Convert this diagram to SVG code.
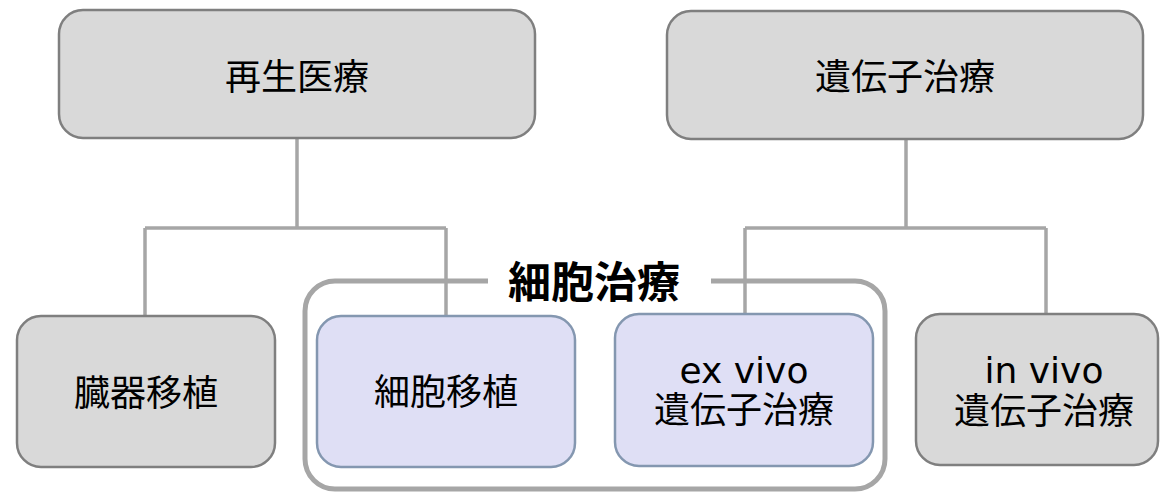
<svg xmlns="http://www.w3.org/2000/svg" width="1160" height="492" viewBox="0 0 1160 492">
<style>
.gray{fill:#d9d9d9;stroke:#7f7f7f;stroke-width:2.5}
.blue{fill:#dfdff5;stroke:#8497b0;stroke-width:2.5}
.conn{fill:none;stroke:#a6a6a6;stroke-width:3.5}
.frame{fill:none;stroke:#a6a6a6;stroke-width:5}
.t{font-family:"DejaVu Sans","Noto Sans CJK JP",sans-serif;font-size:36px;fill:#000;text-anchor:middle;dominant-baseline:central}
.tb{font-family:"Noto Sans CJK JP",sans-serif;font-size:43px;font-weight:bold;fill:#000;text-anchor:middle;dominant-baseline:central}
</style>
<rect width="1160" height="492" fill="#fff"/>
<g id="connectors">
<path class="conn" d="M297 139V228M145 228H446M145 228V316M446 228V315"/>
<path class="conn" d="M906 139V228M745 228H1046M745 228V314M1046 228V314"/>
</g>
<g id="cell-therapy-group">
<path class="frame" d="M488 281H335A30 30 0 0 0 305 311V459A30 30 0 0 0 335 489H855A30 30 0 0 0 885 459V311A30 30 0 0 0 855 281H711"/>
<text class="tb" x="594" y="279">細胞治療</text>
</g>
<g id="regen">
<rect class="gray" x="59" y="10" width="476" height="128" rx="24"/>
<text class="t" x="297" y="77">再生医療</text>
</g>
<g id="gene">
<rect class="gray" x="667" y="11" width="476" height="128" rx="24"/>
<text class="t" x="905" y="77">遺伝子治療</text>
</g>
<g id="organ">
<rect class="gray" x="17" y="316" width="258" height="151" rx="24"/>
<text class="t" x="146" y="393">臓器移植</text>
</g>
<g id="cell-transplant">
<rect class="blue" x="317" y="316" width="258" height="151" rx="24"/>
<text class="t" x="446" y="392">細胞移植</text>
</g>
<g id="exvivo">
<rect class="blue" x="615" y="314" width="258" height="152" rx="24"/>
<text class="t" x="744" y="370">ex vivo</text>
<text class="t" x="744" y="410">遺伝子治療</text>
</g>
<g id="invivo">
<rect class="gray" x="916" y="314" width="242" height="151" rx="24"/>
<text class="t" x="1044" y="370">in vivo</text>
<text class="t" x="1044" y="411">遺伝子治療</text>
</g>
</svg>
